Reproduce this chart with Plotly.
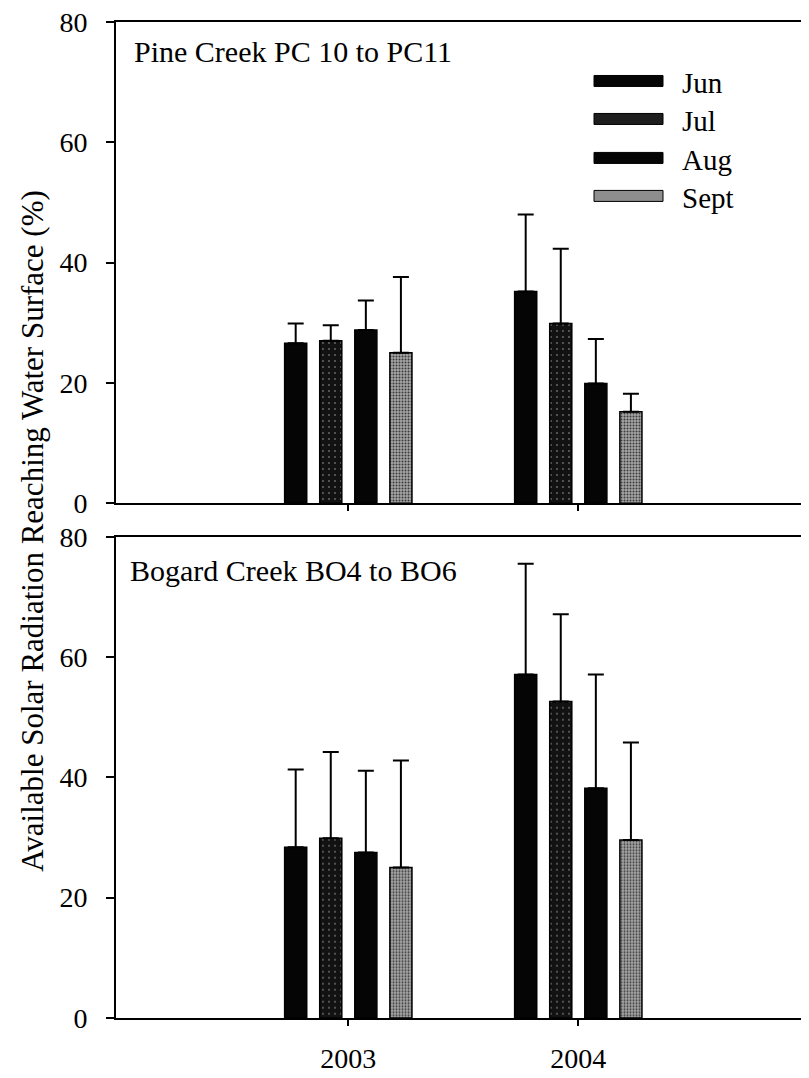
import plotly.graph_objects as go

# ---------------- data ----------------
years = [2003, 2004]
months = ["Jun", "Jul", "Aug", "Sept"]

# Pine Creek PC 10 to PC11 (mean %, SD)
pine_jun = [26.6, 35.2]
pine_jul = [27.0, 29.9]
pine_aug = [28.8, 19.9]
pine_sept = [25.0, 15.2]
pine_jun_sd = [3.3, 12.8]
pine_jul_sd = [2.6, 12.4]
pine_aug_sd = [4.9, 7.4]
pine_sept_sd = [12.6, 3.0]

# Bogard Creek BO4 to BO6
bog_jun = [28.4, 57.1]
bog_jul = [29.9, 52.6]
bog_aug = [27.5, 38.2]
bog_sept = [25.0, 29.6]
bog_jun_sd = [12.9, 18.4]
bog_jul_sd = [14.3, 14.5]
bog_aug_sd = [13.6, 18.9]
bog_sept_sd = [17.8, 16.2]

y_ticks = [0, 20, 40, 60, 80]
panel_titles = ["Pine Creek PC 10 to PC11", "Bogard Creek BO4 to BO6"]
y_title = "Available Solar Radiation Reaching Water Surface (%)"

# ---------------- styles ----------------
FONT = "Liberation Serif"
OFF = 8  # default page body margin
W, H = 809, 1078
# target page-pixel geometry
PL, PR = 116, 806          # plot left / right on page
PT, PB = 22, 1018.5        # plot top / bottom on page
ML = PL - OFF
MR = W - (PR - OFF)
MT = PT - OFF
MB = H - (PB - OFF)

styles = {
    "Jun": dict(color="#050505"),
    "Jul": dict(color="#141414", pattern=dict(shape=".", fgcolor="#6a6a6a", bgcolor="#121212",
                                               size=6, solidity=0.08, fillmode="replace")),
    "Aug": dict(color="#050505"),
    "Sept": dict(color="#9a9a9a", pattern=dict(shape=".", fgcolor="#3a3a3a", bgcolor="#a6a6a6",
                                                size=3, solidity=0.35, fillmode="replace")),
}
swatch_colors = {"Jun": "#050505", "Jul": "#1e1e1e", "Aug": "#050505", "Sept": "#8e8e8e"}

fig = go.Figure()

panels = [
    ("y", "x", [pine_jun, pine_jul, pine_aug, pine_sept],
     [pine_jun_sd, pine_jul_sd, pine_aug_sd, pine_sept_sd]),
    ("y2", "x2", [bog_jun, bog_jul, bog_aug, bog_sept],
     [bog_jun_sd, bog_jul_sd, bog_aug_sd, bog_sept_sd]),
]

for yax, xax, means, sds in panels:
    for m, vals, sd in zip(months, means, sds):
        fig.add_trace(go.Bar(
            x=years, y=vals, name=m, xaxis=xax, yaxis=yax,
            marker=dict(line=dict(color="black", width=1.5), **styles[m]),
            error_y=dict(type="data", array=sd, arrayminus=[0] * len(sd), symmetric=False,
                         color="black", thickness=2, width=8),
            showlegend=False,
        ))

plot_h = PB - PT
plot_w = PR - PL
top_dom = [(PB - 503.5) / plot_h, 1.0]
bot_dom = [0.0, (PB - 537) / plot_h]

xr = [2001.99, 2004.99]
common_x = dict(range=xr, tickvals=years, ticks="outside", ticklen=6, tickwidth=2,
                tickcolor="black", showline=True, linecolor="black", linewidth=2,
                mirror=True, showgrid=False, zeroline=False, automargin=False,
                ticklabeloverflow="allow", ticklabelstandoff=8,
                tickfont=dict(family=FONT, size=28, color="black"))
common_y = dict(range=[0, 80], tickvals=y_ticks, ticks="outside", ticklen=8, tickwidth=2,
                tickcolor="black", showline=True, linecolor="black", linewidth=2,
                showgrid=False, zeroline=False, automargin=False,
                ticklabeloverflow="allow", ticklabelstandoff=13,
                tickfont=dict(family=FONT, size=28, color="black"))

fig.update_layout(
    width=W, height=H,
    margin=dict(l=ML, r=MR, t=MT, b=MB, pad=0),
    paper_bgcolor="white", plot_bgcolor="white",
    barmode="group", bargap=0.39, bargroupgap=0.37,
    showlegend=False,
    font=dict(family=FONT, color="black"),
    xaxis=dict(domain=[0, 1], anchor="y", showticklabels=False, **common_x),
    yaxis=dict(domain=top_dom, anchor="x", **common_y),
    xaxis2=dict(domain=[0, 1], anchor="y2", showticklabels=True, **common_x),
    yaxis2=dict(domain=bot_dom, anchor="x2", **common_y),
)


def px_x(px):
    return (px - PL) / plot_w


def px_y(py):
    return 1 - (py - PT) / plot_h


annotations = [
    dict(text=panel_titles[0], x=px_x(132), y=px_y(52), xref="paper", yref="paper",
         xanchor="left", yanchor="middle", showarrow=False,
         font=dict(family=FONT, size=30, color="black")),
    dict(text=panel_titles[1], x=px_x(128), y=px_y(571), xref="paper", yref="paper",
         xanchor="left", yanchor="middle", showarrow=False,
         font=dict(family=FONT, size=30, color="black")),
    dict(text=y_title, x=px_x(33), y=px_y(531), xref="paper", yref="paper",
         xanchor="center", yanchor="middle", showarrow=False, textangle=-90,
         font=dict(family=FONT, size=31, color="black")),
]

shapes = []
leg_y = [81, 119, 158, 196]
for m, cy in zip(months, leg_y):
    shapes.append(dict(type="rect", xref="paper", yref="paper",
                       x0=px_x(594), x1=px_x(663), y0=px_y(cy + 5.5), y1=px_y(cy - 5.5),
                       fillcolor=swatch_colors[m], line=dict(color="black", width=1)))
    annotations.append(dict(text=m, x=px_x(680), y=px_y(cy + 2), xref="paper", yref="paper",
                            xanchor="left", yanchor="middle", showarrow=False,
                            font=dict(family=FONT, size=29, color="black")))

fig.update_layout(annotations=annotations, shapes=shapes)

fig.write_html("out.html")
